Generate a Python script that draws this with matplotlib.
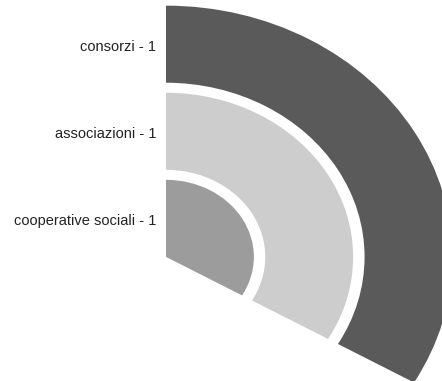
import matplotlib.pyplot as plt
from matplotlib.patches import Wedge

# Radial bar chart: one ring per category, angle proportional to count
categorie = ['cooperative sociali', 'associazioni', 'consorzi']
valori = [1, 1, 1]
colori = ['#9c9c9c', '#cdcdcd', '#5a5a5a']

totale = sum(valori)
passo = 1.0      # distance between rings
spessore = 0.885  # ring thickness (the rest is the white gap)

fig = plt.figure(figsize=(4.42, 3.81), dpi=100)
ax = fig.add_axes([0, 0, 1, 1])

for i, (nome, v, col) in enumerate(zip(categorie, valori, colori)):
    r_in = i * passo
    r_out = r_in + spessore
    ang = v / totale * 360
    # start at 12 o'clock and run clockwise
    w = Wedge((0, 0), r_out, 90 - ang, 90, width=r_out - r_in,
              facecolor=col, edgecolor='none')
    ax.add_patch(w)
    ax.text(-0.1, (r_in + r_out) / 2 - 0.035, f'{nome} - {v}', ha='right', va='center',
            fontsize=10.5, family='Liberation Sans', color='#222222')

ax.set_xlim(-1.672, 2.78)
ax.set_ylim(-1.425, 2.95)
ax.set_aspect('auto')
ax.axis('off')

fig.savefig('out.png', dpi=100, facecolor='white')
